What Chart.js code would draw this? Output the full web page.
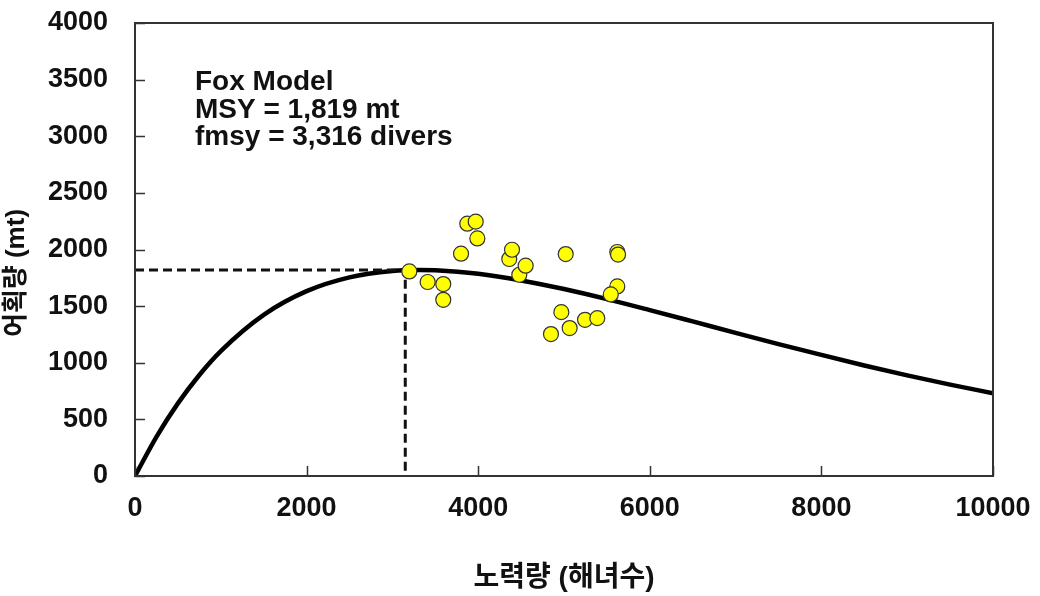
<!DOCTYPE html>
<html>
<head>
<meta charset="utf-8">
<title>Fox Model</title>
<script src="https://cdn.jsdelivr.net/npm/chart.js@4.4.1/dist/chart.umd.min.js"></script>
<style>
    body { margin: 0; background: #fff; }
    #wrap { width: 1040px; height: 596px; }
</style>
</head>
<body>
<div id="wrap"><canvas id="foxChart" width="1040" height="596"></canvas></div>
<script>
// Fitted Fox curve
const effortCurve = [0, 250, 500, 750, 1000, 1500, 2000, 2500, 3000, 3316, 3500, 4000, 4500, 5000, 5500, 6000, 6500, 7000, 7500, 8000, 8500, 9000, 9500, 10000];
const catchCurve = [0, 346, 641, 892, 1103, 1423, 1632, 1754, 1810, 1819, 1816, 1785, 1727, 1651, 1562, 1465, 1365, 1264, 1165, 1069, 976, 889, 807, 731];

// Observed effort / catch
const effortObs = [3197, 3411, 3593, 3593, 3800, 3873, 3971, 3990, 4362, 4394, 4479, 4553, 5020, 4969, 4848, 5066, 5245, 5388, 5621, 5630, 5621, 5545];
const catchObs = [1806, 1713, 1695, 1556, 1963, 2228, 2246, 2098, 1916, 1998, 1777, 1857, 1960, 1447, 1253, 1306, 1379, 1394, 1978, 1955, 1674, 1603];

// MSY guide lines
const msyEffort = [0, 3150, 3150];
const msyCatch = [1819, 1819, 0];

const xTicks = [0, 2000, 4000, 6000, 8000, 10000];
const yTicks = [0, 500, 1000, 1500, 2000, 2500, 3000, 3500, 4000];

const noteLines = ['Fox Model', 'MSY = 1,819 mt', 'fmsy = 3,316 divers'];
const xTitle = '노력량 (해녀수)';
const yTitle = '어획량 (mt)';

const FONT = "'Liberation Sans', Arial, 'Noto Sans CJK KR', sans-serif";

function toPoints(xs, ys) {
    return xs.map((x, i) => ({ x: x, y: ys[i] }));
}

// Box, inward tick marks, note text and y title
const framePlugin = {
    id: 'frame',
    afterDraw(chart) {
        const { ctx, chartArea: a, scales } = chart;
        ctx.save();
        ctx.strokeStyle = '#333';
        ctx.lineWidth = 2;
        ctx.strokeRect(a.left, a.top, a.right - a.left, a.bottom - a.top);

        ctx.lineWidth = 1.5;
        ctx.beginPath();
        xTicks.forEach(v => {
            const px = Math.round(scales.x.getPixelForValue(v)) + 0.5;
            ctx.moveTo(px, a.bottom);
            ctx.lineTo(px, a.bottom - 10);
        });
        yTicks.forEach(v => {
            const py = Math.round(scales.y.getPixelForValue(v)) + 0.5;
            ctx.moveTo(a.left, py);
            ctx.lineTo(a.left + 10, py);
        });
        ctx.stroke();

        ctx.fillStyle = '#111';
        ctx.font = 'bold 28px ' + FONT;
        ctx.textAlign = 'left';
        ctx.textBaseline = 'alphabetic';
        noteLines.forEach((t, i) => ctx.fillText(t, 195, 90 + i * 27.5));

        ctx.translate(17, 273);
        ctx.rotate(-Math.PI / 2);
        ctx.font = 'bold 26px ' + FONT;
        ctx.textAlign = 'center';
        ctx.textBaseline = 'middle';
        ctx.fillText(yTitle, 0, 0);
        ctx.restore();
    }
};

new Chart(document.getElementById('foxChart'), {
    type: 'scatter',
    data: {
        datasets: [
            {
                label: 'Observed',
                data: toPoints(effortObs, catchObs),
                backgroundColor: '#ffff00',
                borderColor: '#333',
                borderWidth: 1.2,
                pointRadius: 7.5,
                order: 0
            },
            {
                label: 'MSY',
                type: 'line',
                data: toPoints(msyEffort, msyCatch),
                borderColor: '#111',
                borderWidth: 3,
                borderDash: [9, 5],
                pointRadius: 0,
                fill: false,
                order: 1
            },
            {
                label: 'Fox Model',
                type: 'line',
                data: toPoints(effortCurve, catchCurve),
                borderColor: '#000',
                borderWidth: 4.5,
                pointRadius: 0,
                cubicInterpolationMode: 'monotone',
                fill: false,
                order: 2
            }
        ]
    },
    options: {
        responsive: false,
        animation: false,
        layout: { padding: { top: 23, right: 47, left: 0, bottom: 0 } },
        plugins: {
            legend: { display: false },
            tooltip: { enabled: false }
        },
        scales: {
            x: {
                type: 'linear',
                min: 0,
                max: 10000,
                afterFit: (scale) => {
                    scale.height = 120;
                    scale.paddingLeft = 0;
                    scale.paddingRight = 0;
                },
                afterBuildTicks: (scale) => { scale.ticks = xTicks.map(v => ({ value: v })); },
                grid: { display: false, drawTicks: false },
                border: { display: false },
                ticks: {
                    padding: 16,
                    color: '#111',
                    callback: (v) => String(v),
                    font: { family: FONT, size: 27, weight: 'bold' }
                },
                title: {
                    display: true,
                    text: xTitle,
                    color: '#111',
                    padding: { top: 0, bottom: 1 },
                    font: { family: FONT, size: 28, weight: 'bold' }
                }
            },
            y: {
                type: 'linear',
                min: 0,
                max: 4000,
                afterFit: (scale) => {
                    scale.width = 135;
                    scale.paddingTop = 0;
                    scale.paddingBottom = 0;
                },
                afterBuildTicks: (scale) => { scale.ticks = yTicks.map(v => ({ value: v })); },
                grid: { display: false, drawTicks: false },
                border: { display: false },
                ticks: {
                    padding: 27,
                    color: '#111',
                    callback: (v) => String(v),
                    font: { family: FONT, size: 27, weight: 'bold' }
                }
            }
        }
    },
    plugins: [framePlugin]
});
</script>
</body>
</html>
